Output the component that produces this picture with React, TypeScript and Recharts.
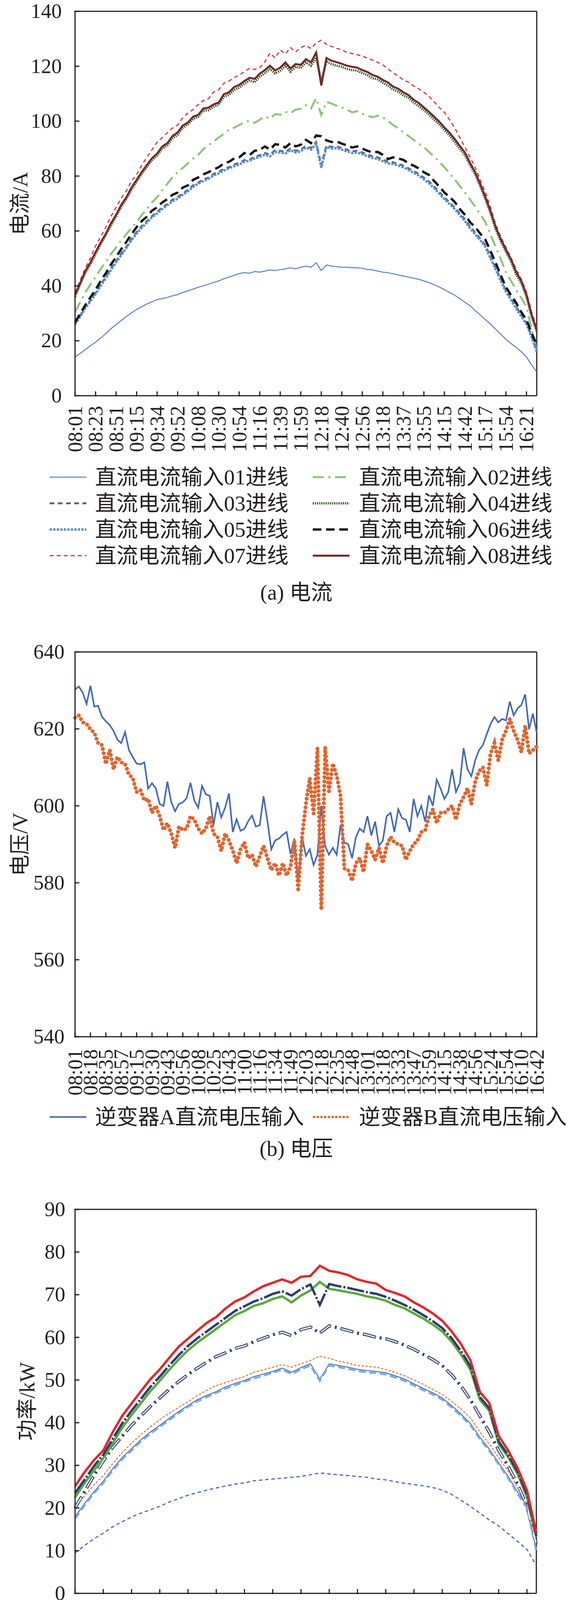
import React from "react";
import { LineChart, Line, XAxis, YAxis, ReferenceLine, Legend } from "recharts";

const FONT = "'Liberation Serif', 'Times New Roman', 'DejaVu Serif', 'Noto Sans CJK SC', serif";
const INK = "#231f20";

// ---------- (a) 电流 ----------
const CUR_TIMES = [
  "08:01", "08:23", "08:51", "09:15", "09:34", "09:52", "10:08", "10:30", "10:54", "11:16", "11:39", "11:59",
  "12:18", "12:40", "12:56", "13:18", "13:37", "13:55", "14:15", "14:42", "15:17", "15:54", "16:21",
];
const CUR_01 = [14.1,15.4,16.8,18.2,19.5, 21.0,22.6,24.4,25.9, 27.4,28.8,30.2,31.4, 32.4,33.4,34.2,35.0, 35.4,35.8,36.4,36.8, 37.6,38.2,38.8,39.5, 40.0,40.6,41.2,41.8, 42.6,43.2,43.8,44.5, 44.8,44.6,45.2,45.0, 45.4,45.8,45.6,45.9, 46.2,46.6,46.2,46.8, 47.2,46.8,48.4,45.6, 47.6,47.2,47.0,46.8, 46.8,46.6,46.6,46.4, 46.0,45.8,45.4,45.0, 44.8,44.4,44.0,43.6, 43.2,42.8,42.4,41.8, 41.2,40.4,39.6,38.6, 37.6,36.6,35.4,34.0, 32.8,31.0,29.4,27.7, 26.0,24.2,22.4,20.5, 19.0,17.6,16.0,14.1, 11.2,8.6];
const CUR_02 = [30.5,34.0,37.6,40.5,43.2, 46.2,48.8,51.6,54.0, 56.6,58.8,61.2,63.2, 65.8,68.0,70.4,72.3, 74.8,77.2,79.6,81.4, 83.0,84.6,86.4,87.7, 89.8,91.2,92.6,94.0, 95.4,96.8,97.6,98.6, 99.6,100.2,99.4,100.5, 101.8,100.8,102.6,102.3, 103.4,102.8,104.2,104.5, 105.8,104.6,108.4,102.2, 107.0,106.4,105.6,105.0, 104.2,103.2,103.6,102.7, 102.0,101.4,102.0,101.4, 100.0,98.6,97.4,95.9, 94.6,93.2,91.8,90.5, 88.8,87.0,85.2,83.2, 81.0,78.8,76.4,74.0, 71.5,68.8,66.0,63.2, 58.6,54.2,49.6,45.0, 41.8,38.4,35.6,32.3, 24.5,16.8];
const CUR_03 = [26.4,29.2,32.4,34.8,37.6, 40.6,43.2,46.4,49.0, 51.8,54.2,57.2,59.6, 61.8,63.6,65.4,67.0, 68.6,69.8,71.4,72.4, 73.6,75.0,76.6,77.6, 78.8,79.4,80.8,81.6, 82.6,83.2,84.2,84.8, 85.8,86.0,87.0,87.6, 88.4,87.8,89.4,89.2, 88.8,90.0,89.2,89.6, 91.0,90.2,92.4,84.0, 91.2,90.6,90.8,90.2, 89.6,89.0,89.2,88.6, 87.8,87.2,86.8,86.0, 85.2,85.0,84.4,83.8, 82.8,81.8,80.8,79.4, 78.0,76.2,74.2,72.2, 70.4,68.6,66.4,64.2, 61.6,59.4,57.2,54.8, 50.6,46.6,42.4,38.4, 35.4,32.4,29.4,26.6, 21.8,16.6];
const CUR_04 = [36.0,40.5,44.8,48.0,51.6, 55.2,58.6,62.0,65.2, 68.8,71.6,75.0,78.0, 80.8,83.4,85.8,87.5, 90.0,91.2,93.8,95.0, 97.6,98.8,100.8,101.6, 103.8,104.0,105.2,106.0, 108.9,109.6,111.4,112.2, 113.6,114.8,114.2,116.2, 117.5,119.0,117.4,118.4, 120.2,118.0,119.8,119.4, 121.4,120.2,123.2,114.5, 121.8,120.8,120.2,119.8, 119.0,118.6,118.4,117.5, 116.8,115.6,115.2,114.0, 113.0,111.5,110.8,109.4, 108.5,106.8,105.5,104.0, 102.4,100.6,98.8,96.8, 94.8,92.5,90.0,87.6, 84.0,80.6,76.2,71.5, 66.4,60.6,56.2,52.4, 48.8,44.2,41.0,36.0, 28.8,23.4];
const CUR_05 = [25.9,28.8,31.8,34.4,37.0, 40.0,42.8,45.8,48.5, 51.2,53.8,56.6,59.0, 61.2,63.0,65.0,66.4, 68.0,69.4,70.8,71.8, 73.2,74.4,76.0,77.2, 78.2,79.0,80.2,81.0, 82.0,82.8,83.6,84.2, 85.2,85.6,86.4,87.0, 87.8,87.2,88.8,88.6, 88.2,89.4,88.6,89.0, 90.4,89.6,91.8,83.0, 90.6,90.0,90.2,89.6, 89.0,88.4,88.6,88.0, 87.2,86.6,86.2,85.4, 84.6,84.4,83.8,83.2, 82.2,81.2,80.2,78.8, 77.4,75.6,73.6,71.6, 69.8,68.0,65.8,63.6, 61.0,58.8,56.6,54.2, 50.0,46.0,41.8,37.8, 34.8,31.8,28.8,26.0, 21.2,16.0];
const CUR_06 = [26.8,29.8,33.0,35.8,38.6, 41.8,44.6,47.8,50.5, 53.4,56.0,58.8,61.4, 63.6,65.2,67.4,68.6, 70.4,71.6,73.2,74.0, 75.8,76.6,78.6,79.5, 80.6,81.4,82.4,83.2, 84.6,85.2,86.4,86.8, 88.4,87.6,89.2,89.5, 90.8,89.6,91.6,91.4, 90.4,92.0,90.8,91.4, 93.2,92.0,94.8,94.5, 93.0,92.4,92.6,91.8, 91.2,90.4,90.8,90.0, 89.2,88.6,88.8,87.7, 86.2,86.8,86.4,85.9, 84.6,83.8,82.8,81.4, 80.4,78.2,76.2,74.0, 72.4,70.6,68.0,65.9, 63.2,61.4,59.0,56.8, 52.6,48.4,43.8,39.5, 36.6,33.8,30.4,27.7, 22.8,18.6];
const CUR_07 = [37.5,42.0,46.5,50.2,54.5, 58.0,61.4,65.3,68.6, 72.0,74.6,78.2,80.5, 84.0,86.8,89.6,92.3, 94.0,95.8,97.5,98.6, 101.2,103.0,104.2,106.0, 107.5,108.2,110.6,111.4, 113.8,114.6,115.9,116.8, 118.0,119.2,118.8,119.5, 121.6,124.8,123.0,125.9, 124.5,126.8,125.2,126.8, 127.6,126.4,128.5,129.5, 128.0,127.2,126.5,126.0, 125.0,124.6,124.2,123.6, 123.0,122.2,121.4,120.5, 119.0,117.6,116.4,115.0, 114.2,112.8,111.8,110.5, 109.0,107.0,105.0,103.2, 100.5,97.6,94.0,90.5, 86.8,83.2,78.5,74.0, 68.5,62.4,57.8,54.0, 50.2,46.0,42.4,37.7, 30.5,25.0];
const CUR_08 = [36.8,41.0,45.4,48.6,52.3, 55.8,59.0,62.8,65.9, 69.5,72.3,75.8,78.6, 81.5,84.0,86.5,88.2, 90.8,92.0,94.6,95.9, 98.4,99.5,101.6,102.3, 104.6,104.9,106.1,106.8, 109.8,110.5,112.4,113.2, 114.6,115.8,115.4,117.3, 118.6,120.2,118.5,119.5, 121.4,119.2,120.8,120.5, 122.6,121.4,125.0,113.0, 123.0,122.0,121.5,120.9, 120.2,119.8,119.5,118.6, 117.9,116.8,116.2,115.0, 114.1,112.6,111.8,110.5, 109.5,107.8,106.6,105.0, 103.4,101.6,99.8,97.7, 95.8,93.5,91.0,88.6, 84.8,81.4,77.0,72.3, 67.2,61.4,57.0,53.2, 49.6,45.0,41.8,36.8, 29.5,24.0];

// ---------- (b) 电压 ----------
const VOLT_TIMES = [
  "08:01", "08:18", "08:35", "08:57", "09:15", "09:30", "09:43", "09:56", "10:08", "10:25", "10:43",
  "11:00", "11:16", "11:34", "11:49", "12:03", "12:18", "12:35", "12:48", "13:01", "13:18", "13:33",
  "13:47", "13:59", "14:15", "14:38", "14:56", "15:24", "15:54", "16:10", "16:42",
];
const VOLT_A = [
  630.3,631.0,629.4,626.5,631.2,625.8,626.0,623.1,622.0,621.0,
  619.5,617.2,616.3,619.2,614.5,612.7,611.0,610.8,611.3,604.5,
  605.9,604.5,600.5,600.0,606.3,601.0,598.6,600.5,600.9,602.0,
  606.0,601.4,599.5,605.2,603.0,602.6,595.0,601.0,597.0,599.5,
  603.2,593.2,596.5,593.5,594.0,596.0,597.5,594.6,595.0,602.5,
  596.0,588.7,591.0,591.5,592.5,593.2,587.5,591.5,580.5,592.0,
  587.0,588.7,584.6,587.3,600.0,589.6,587.3,589.1,587.3,595.0,
  590.5,590.0,586.4,591.9,594.1,593.2,597.3,592.3,595.9,589.6,
  591.0,597.3,598.2,593.2,599.1,596.8,596.4,593.2,601.8,597.3,
  600.0,595.9,602.7,600.0,606.8,604.5,601.8,603.6,609.5,603.6,
  605.9,615.0,609.5,607.7,611.8,614.5,615.8,618.6,621.3,623.1,
  621.7,622.6,622.2,627.1,623.5,625.3,626.2,629.0,619.9,624.0,
  619.0,
];
const VOLT_B = [
  622.9,623.5,621.7,621.3,619.9,619.0,616.3,615.8,610.9,614.5,
  609.5,612.7,611.3,610.9,608.1,607.2,603.6,604.1,601.4,601.8,
  598.2,600.0,597.3,593.7,595.5,592.8,589.1,594.6,593.7,594.1,
  597.3,596.4,594.1,592.8,594.1,597.3,592.8,591.9,588.3,592.8,
  591.0,588.3,585.1,588.7,590.5,586.4,587.3,584.2,586.9,589.6,
  586.4,583.3,585.1,581.9,585.1,581.9,584.2,591.0,578.3,592.0,
  600.5,607.2,598.0,615.0,573.0,615.2,603.8,611.0,607.8,602.6,
  583.7,583.3,580.5,585.1,586.4,582.8,590.0,588.3,586.0,589.1,
  585.1,589.6,591.9,590.5,590.0,589.6,586.0,588.3,590.0,591.0,
  593.2,593.7,597.3,599.1,595.5,598.2,598.2,599.1,600.0,596.4,
  600.5,602.3,604.5,600.5,606.3,609.0,610.0,605.4,613.6,616.3,
  611.8,617.2,619.5,622.6,619.5,617.2,614.0,620.8,613.6,614.5,
  615.4,
];

// ---------- (c) 功率 ----------
const POW_TIMES = [
  "08:01", "08:33", "09:07", "09:37", "10:00", "10:28", "11:00", "11:31", "11:59",
  "12:25", "12:52", "13:20", "13:47", "14:13", "14:48", "15:39", "16:21",
];
const POW_01 = [9.5,11.2,12.8,14.1, 15.6,16.8,17.9, 18.8,19.6,20.4, 21.4,22.2,23.0, 23.6,24.2,24.7, 25.2,25.6,25.9, 26.4,26.6,26.8, 27.0,27.2,27.4, 27.8,28.2,28.0, 27.8,27.6,27.4, 27.2,26.8,26.6, 26.2,25.8,25.5, 25.2,24.8,24.2, 23.2,21.8,20.4, 18.8,17.2,15.8, 14.0,12.2,10.3,6.5];
const POW_02 = [20.0,23.8,27.6,31.0, 34.2,36.8,39.4, 41.6,43.8,45.8, 47.8,49.6,51.3, 52.8,54.2,55.5, 56.4,57.4,58.0, 59.0,59.8,60.6, 61.2,60.4,61.8, 62.4,61.0,62.7, 62.2,61.6,61.0, 60.6,60.0,59.7, 59.0,58.2,57.2, 56.0,54.8,53.4, 51.2,48.6,45.4, 41.6,37.8,33.5, 29.8,25.6,20.5,11.5];
const POW_03 = [18.0,21.0,23.8,26.3, 29.2,31.8,33.9, 36.0,37.8,39.4, 41.0,42.6,44.0, 45.4,46.4,47.3, 48.4,49.2,49.9, 50.8,51.4,52.0, 52.8,51.8,52.9, 53.8,50.2,53.8, 53.4,53.0,52.5, 52.2,52.0,51.7, 51.0,50.2,49.1, 48.0,47.0,45.8, 44.0,42.0,39.8, 36.6,33.8,30.6, 27.4,23.8,20.4,10.2];
const POW_04 = [22.5,25.8,28.8,31.6, 35.2,38.8,41.8, 44.6,47.4,49.8, 52.4,54.8,57.0, 58.8,60.4,62.0, 63.6,65.2,66.2, 67.4,68.0,69.0, 69.6,68.2,69.8, 71.0,73.0,71.4, 71.0,70.6,70.2, 69.6,69.2,68.6, 67.6,66.8,65.6, 64.4,63.0,61.4, 59.0,56.0,52.4, 45.4,42.8,35.0, 32.0,28.0,22.6,13.2];
const POW_05 = [17.5,20.6,23.4,25.9, 28.8,31.4,33.5, 35.6,37.4,39.0, 40.6,42.2,43.7, 45.0,46.0,47.0, 48.0,48.8,49.6, 50.4,51.0,51.7, 52.4,51.4,52.5, 53.4,49.8,53.4, 53.0,52.6,52.1, 51.8,51.6,51.3, 50.6,49.8,48.7, 47.6,46.6,45.4, 43.6,41.6,39.4, 36.2,33.4,30.2, 27.0,23.4,20.0,9.9];
const POW_06 = [20.4,22.8,25.4,27.6, 30.4,33.0,35.2, 37.2,39.0,40.7, 42.2,43.6,44.9, 46.4,47.6,48.7, 49.4,50.2,50.8, 51.8,52.4,53.0, 53.6,53.0,53.8, 54.6,55.6,55.1, 54.4,54.0,53.4, 53.2,53.0,52.5, 51.8,51.0,50.0, 49.0,47.8,46.6, 45.0,43.2,41.1, 37.8,35.0,31.8, 28.6,24.8,20.9,10.7];
const POW_07 = [25.1,28.4,31.2,33.5, 37.8,41.6,44.5, 47.4,50.2,52.5, 55.2,57.8,59.7, 61.6,63.4,64.8, 66.8,68.4,69.4, 70.8,72.0,72.8, 73.6,72.8,74.2, 74.4,76.8,75.6, 75.2,74.6,73.6, 73.0,72.6,71.1, 70.4,69.6,68.2, 67.0,65.6,63.9, 61.4,58.4,54.6, 47.2,44.6,36.9, 33.5,29.4,24.2,14.1];
const POW_08 = [23.5,26.6,29.8,32.5, 36.2,39.8,42.8, 45.6,48.4,50.8, 53.4,55.8,58.0, 59.8,61.4,63.0, 64.6,66.2,67.3, 68.4,69.2,70.2, 70.8,69.8,71.3, 72.4,67.6,72.5, 72.0,71.6,71.1, 70.6,70.2,69.5, 68.6,67.6,66.5, 65.2,63.8,62.2, 59.8,56.8,53.2, 46.0,43.4,35.6, 32.4,28.6,23.2,13.5];

interface Series {
  key: string;
  name: string;
  values: number[];
  color: string;
  width: number;
  dash?: string;
  round?: boolean;
  outline?: boolean;
}

const CUR_SERIES: Series[] = [
  { key: "s01", name: "直流电流输入01进线", values: CUR_01, color: "#5b7ec4", width: 2.5 },
  { key: "s02", name: "直流电流输入02进线", values: CUR_02, color: "#8fc47a", width: 5, dash: "28 12 5 12" },
  { key: "s03", name: "直流电流输入03进线", values: CUR_03, color: "#55698a", width: 5, dash: "12 9" },
  { key: "s04", name: "直流电流输入04进线", values: CUR_04, color: "#3d5c2f", width: 6, dash: "3 2.5" },
  { key: "s05", name: "直流电流输入05进线", values: CUR_05, color: "#5a8ecb", width: 6, dash: "6 3" },
  { key: "s06", name: "直流电流输入06进线", values: CUR_06, color: "#161616", width: 6, dash: "22 12" },
  { key: "s07", name: "直流电流输入07进线", values: CUR_07, color: "#d23640", width: 3, dash: "10 8" },
  { key: "s08", name: "直流电流输入08进线", values: CUR_08, color: "#6e2b28", width: 5 },
];

const VOLT_SERIES: Series[] = [
  { key: "a", name: "逆变器A直流电压输入", values: VOLT_A, color: "#4468b8", width: 4 },
  { key: "b", name: "逆变器B直流电压输入", values: VOLT_B, color: "#e0652f", width: 10, dash: "0.1 11", round: true },
];

const POW_SERIES: Series[] = [
  { key: "p01", name: "直流功率输入01进线", values: POW_01, color: "#4a6cc0", width: 3, dash: "9 7" },
  { key: "p02", name: "直流功率输入02进线", values: POW_02, color: "#33406e", width: 8, dash: "34 10 5 10", outline: true },
  { key: "p03", name: "直流功率输入03进线", values: POW_03, color: "#4472c4", width: 2.5 },
  { key: "p05", name: "直流功率输入05进线", values: POW_05, color: "#7eaadb", width: 5, dash: "18 9" },
  { key: "p06", name: "直流功率输入06进线", values: POW_06, color: "#e2722f", width: 2.5, dash: "6 4" },
  { key: "p04", name: "直流功率输入04进线", values: POW_04, color: "#5aa83c", width: 6 },
  { key: "p08", name: "直流功率输入08进线", values: POW_08, color: "#2d3c6c", width: 6, dash: "44 5 5 5" },
  { key: "p07", name: "直流功率输入07进线", values: POW_07, color: "#e3262a", width: 6 },
];

function buildRows(series: Series[]) {
  const n = series[0].values.length;
  return Array.from({ length: n }, (_, i) => {
    const row: Record<string, number> = { i };
    series.forEach((s) => (row[s.key] = s.values[i]));
    return row;
  });
}

function XTick(props: any) {
  const { x, y, payload, times, step, gap } = props;
  const label = times[Math.round(payload.value / step)];
  return (
    <g transform={`translate(${x},${y})`}>
      <line x1={0} y1={0} x2={0} y2={-13} stroke={INK} strokeWidth={3} />
      <text transform="rotate(-90)" x={-gap} y={0} dy="0.34em" textAnchor="end" fontFamily={FONT} fontSize={52} fill={INK}>
        {label}
      </text>
    </g>
  );
}

function YTick(props: any) {
  const { x, y, payload, gap } = props;
  return (
    <g>
      <line x1={x} y1={y} x2={x + 13} y2={y} stroke={INK} strokeWidth={3} />
      <text x={x - gap} y={y} dy="0.32em" textAnchor="end" fontFamily={FONT} fontSize={53} fill={INK}>
        {payload.value}
      </text>
    </g>
  );
}

function YTitle({ text, tx, ty }: { text: string; tx: number; ty: number }) {
  return (
    <text x={tx} y={ty} transform={`rotate(-90 ${tx} ${ty})`} textAnchor="middle" dominantBaseline="central" fontFamily={FONT} fontSize={54} fill={INK}>
      {text}
    </text>
  );
}

interface LegendCol {
  x1: number;
  x2: number;
  text: number;
}

function Sample({ s, w, h }: { s: Series; w: number; h: number }) {
  const cy = h / 2;
  return (
    <svg width={w} height={h} style={{ position: "absolute", left: 0, top: 0 }}>
      <line x1={s.round ? 5 : 0} y1={cy} x2={w} y2={cy} stroke={s.color} strokeWidth={s.round ? 6 : s.width} strokeDasharray={s.round ? "0.5 9" : s.dash} strokeLinecap={s.round ? "round" : "butt"} />
      {s.outline && <line x1={2} y1={cy} x2={w} y2={cy} stroke="#fff" strokeWidth={3} strokeDasharray="30 29" />}
    </svg>
  );
}

function LegendBlock({ series, rows, cols, rowH }: { series: Series[]; rows: string[][]; cols: LegendCol[]; rowH: number }) {
  return (
    <div style={{ position: "relative", width: 1476, height: rows.length * rowH }}>
      {rows.map((keys, r) =>
        keys.map((k, c) => {
          const s = series.find((it) => it.key === k)!;
          const col = cols[c];
          return (
            <div key={k} style={{ position: "absolute", top: r * rowH, left: 0, height: rowH, width: 1476 }}>
              <div style={{ position: "absolute", left: col.x1, top: 0, width: col.x2 - col.x1, height: rowH }}>
                <Sample s={s} w={col.x2 - col.x1} h={rowH} />
              </div>
              <span
                style={{
                  position: "absolute",
                  left: col.text,
                  top: 0,
                  lineHeight: `${rowH}px`,
                  fontSize: 55,
                  fontFamily: FONT,
                  color: INK,
                  whiteSpace: "nowrap",
                }}
              >
                {s.name}
              </span>
            </div>
          );
        })
      )}
    </div>
  );
}

interface PanelProps {
  top: number;
  height: number;
  plotTop: number;
  plotBottom: number;
  plotRight: number;
  series: Series[];
  times: string[];
  step: number;
  xGap: number;
  yDomain: [number, number];
  yTicks: number[];
  yGap: number;
  yTitle: string;
  yTitleX: number;
  legendTop: number;
  legendRows: string[][];
  legendCols: LegendCol[];
  rowH: number;
  caption: string;
  captionY: number;
}

function Panel(p: PanelProps) {
  const data = buildRows(p.series);
  const n = data.length;
  const xTicks = p.times.map((_, k) => k * p.step);
  const xAxisHeight = p.top + p.height - p.plotBottom;
  const titleY = (p.plotTop + p.plotBottom) / 2 - p.top;
  return (
    <>
      <div style={{ position: "absolute", top: p.top, left: 0, width: 1476, height: p.height }}>
        <LineChart
          width={1476}
          height={p.height}
          data={data}
          margin={{ top: p.plotTop - p.top, right: 1476 - p.plotRight, bottom: 0, left: 0 }}
        >
          <XAxis
            dataKey="i"
            type="number"
            domain={[0, n - 1]}
            ticks={xTicks}
            interval={0}
            tickSize={0}
            tickLine={false}
            height={xAxisHeight}
            axisLine={{ stroke: INK, strokeWidth: 3 }}
            tick={(tp: any) => <XTick {...tp} times={p.times} step={p.step} gap={p.xGap} />}
          />
          <YAxis
            type="number"
            domain={p.yDomain}
            ticks={p.yTicks}
            interval={0}
            width={192}
            tickSize={0}
            tickLine={false}
            axisLine={{ stroke: INK, strokeWidth: 3 }}
            tick={(tp: any) => <YTick {...tp} gap={p.yGap} />}
            label={<YTitle text={p.yTitle} tx={p.yTitleX} ty={titleY} />}
          />
          <ReferenceLine y={p.yDomain[1]} stroke={INK} strokeWidth={3} />
          <ReferenceLine x={n - 1} stroke={INK} strokeWidth={3} />
          {p.series.map((s) => (
            <Line
              key={s.key}
              type="linear"
              dataKey={s.key}
              name={s.name}
              stroke={s.color}
              strokeWidth={s.width}
              strokeDasharray={s.dash}
              strokeLinecap={s.round ? "round" : "butt"}
              dot={false}
              activeDot={false}
              isAnimationActive={false}
            />
          ))}
          {p.series
            .filter((s) => s.outline)
            .map((s) => (
              <Line
                key={`${s.key}-core`}
                type="linear"
                dataKey={s.key}
                legendType="none"
                stroke="#ffffff"
                strokeWidth={3}
                strokeDasharray="30 29"
                strokeDashoffset={-2}
                dot={false}
                activeDot={false}
                isAnimationActive={false}
              />
            ))}
          <Legend
            verticalAlign="middle"
            align="center"
            layout="horizontal"
            wrapperStyle={{ top: p.legendTop, left: 0, width: 1476 }}
            content={() => <LegendBlock series={p.series} rows={p.legendRows} cols={p.legendCols} rowH={p.rowH} />}
          />
        </LineChart>
      </div>
      <div
        style={{
          position: "absolute",
          top: p.captionY - 30,
          left: 0,
          width: 1516,
          textAlign: "center",
          fontFamily: FONT,
          fontSize: 55,
          lineHeight: "60px",
          color: INK,
        }}
      >
        {p.caption}
      </div>
    </>
  );
}

export default function App() {
  return (
    <div style={{ position: "relative", width: 1476, height: 4597, margin: "-8px 0 0 -8px", background: "#ffffff" }}>
      <Panel
        top={0}
        height={1480}
        plotTop={29}
        plotBottom={1013}
        plotRight={1373}
        series={CUR_SERIES}
        times={CUR_TIMES}
        step={4}
        xGap={24}
        yDomain={[0, 140]}
        yTicks={[0, 20, 40, 60, 80, 100, 120, 140]}
        yGap={32}
        yTitle="电流/A"
        yTitleX={52}
        legendTop={1188}
        legendRows={[["s01", "s02"], ["s03", "s04"], ["s05", "s06"], ["s07", "s08"]]}
        legendCols={[{ x1: 127, x2: 221, text: 243 }, { x1: 800, x2: 894, text: 918 }]}
        rowH={67}
        caption="(a) 电流"
        captionY={1517}
      />
      <Panel
        top={1600}
        height={1300}
        plotTop={1669}
        plotBottom={2654}
        plotRight={1373}
        series={VOLT_SERIES}
        times={VOLT_TIMES}
        step={4}
        xGap={30}
        yDomain={[540, 640]}
        yTicks={[540, 560, 580, 600, 620, 640]}
        yGap={25}
        yTitle="电压/V"
        yTitleX={52}
        legendTop={1226}
        legendRows={[["a", "b"]]}
        legendCols={[{ x1: 127, x2: 221, text: 243 }, { x1: 798, x2: 894, text: 918 }]}
        rowH={67}
        caption="(b) 电压"
        captionY={2941}
      />
      <Panel
        top={3040}
        height={1500}
        plotTop={3096}
        plotBottom={4079}
        plotRight={1372}
        series={POW_SERIES}
        times={POW_TIMES}
        step={3}
        xGap={26}
        yDomain={[0, 90]}
        yTicks={[0, 10, 20, 30, 40, 50, 60, 70, 80, 90]}
        yGap={23}
        yTitle="功率/kW"
        yTitleX={70}
        legendTop={1217}
        legendRows={[["p03", "p02"], ["p01", "p06"], ["p05", "p04"], ["p08", "p07"]]}
        legendCols={[{ x1: 148, x2: 223, text: 243 }, { x1: 822, x2: 899, text: 918 }]}
        rowH={66}
        caption="(c) 功率"
        captionY={4560}
      />
    </div>
  );
}
